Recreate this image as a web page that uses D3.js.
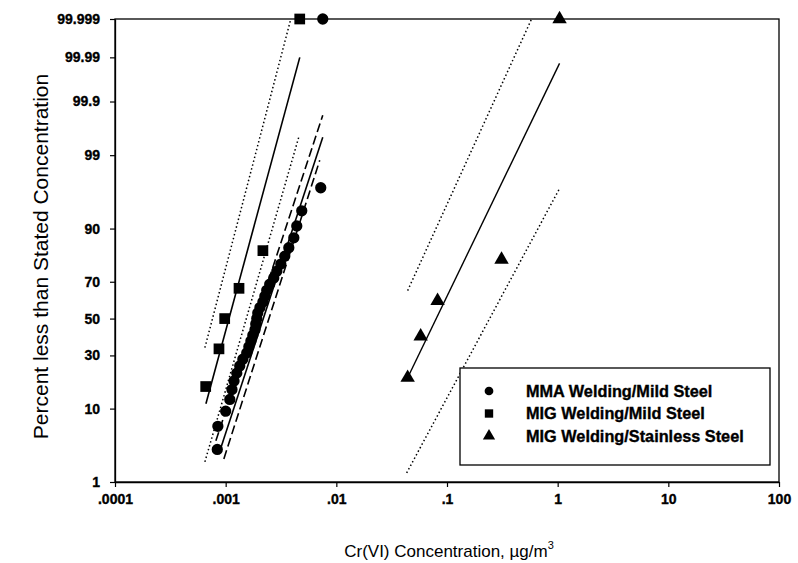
<!DOCTYPE html>
<html>
<head>
<meta charset="utf-8">
<script src="https://cdn.jsdelivr.net/npm/d3@7"></script>
<style>
  html, body { margin: 0; padding: 0; background: #fff; }
  svg { display: block; }
  text { font-family: "Liberation Sans", Arial, sans-serif; fill: #000; }
</style>
</head>
<body>
<svg id="chart" width="798" height="563"></svg>
<script>
// ---------- data ----------
const xTicks = [0.0001, 0.001, 0.01, 0.1, 1, 10, 100];
const xTickLabels = [".0001", ".001", ".01", ".1", "1", "10", "100"];
const yTicks = [1, 10, 30, 50, 70, 90, 99, 99.9, 99.99, 99.999];
const yTickLabels = ["1", "10", "30", "50", "70", "90", "99", "99.9", "99.99", "99.999"];

const seriesNames = ["MMA Welding/Mild Steel", "MIG Welding/Mild Steel", "MIG Welding/Stainless Steel"];

// MMA Welding / Mild Steel (circles)
const mmaConc = [0.00084, 0.00085, 0.00100, 0.00109, 0.00114, 0.00119, 0.00126, 0.00134,
                 0.00143, 0.00155, 0.00162, 0.00169, 0.00176, 0.00184, 0.00187, 0.00191,
                 0.00195, 0.00204, 0.00217, 0.00226, 0.00235, 0.00250, 0.00272, 0.00290,
                 0.00315, 0.00342, 0.00372, 0.00413, 0.00439, 0.00487, 0.00723, 0.00754];
const mmaPct = [3.125, 6.25, 9.375, 12.5, 15.625, 18.75, 21.875, 25,
                28.125, 31.25, 34.375, 37.5, 40.625, 43.75, 46.875, 50,
                53.125, 56.25, 59.375, 62.5, 65.625, 68.75, 71.875, 75,
                78.125, 81.25, 84.375, 87.5, 90.625, 93.75, 96.875, 99.999];

// MIG Welding / Mild Steel (squares)
const migMildConc = [0.00066, 0.00087, 0.00098, 0.00132, 0.00217, 0.00467];
const migMildPct = [16.67, 33.33, 50, 66.67, 83.33, 99.999];

// MIG Welding / Stainless Steel (triangles)
const migStainConc = [0.0441, 0.0578, 0.0822, 0.311, 1.04];
const migStainPct = [20, 40, 60, 80, 99.999];

// fitted lines and confidence bands (end points)
const mmaFit      = { conc: [0.000887, 0.00754], pct: [2.99, 99.509] };
const mmaUpper    = { conc: [0.000816, 0.00754], pct: [4.09, 99.811] };
const mmaLower    = { conc: [0.000963, 0.00708], pct: [2.29, 98.79] };
const migMildFit  = { conc: [0.000663, 0.004674], pct: [11.26, 99.990] };
const migMildUp   = { conc: [0.000649, 0.003877], pct: [33.95, 99.999] };
const migMildLow  = { conc: [0.000649, 0.004577], pct: [2.07, 99.51] };
const migStFit    = { conc: [0.0441, 1.04], pct: [20.0, 99.986] };
const migStUp     = { conc: [0.0441, 0.581], pct: [65.5, 99.999] };
const migStLow    = { conc: [0.0432, 1.04], pct: [1.40, 96.8] };

// ---------- helpers ----------
function probit(p) { // inverse standard normal CDF (Acklam)
  const a = [-3.969683028665376e+01, 2.209460984245205e+02, -2.759285104469687e+02,
             1.383577518672690e+02, -3.066479806614716e+01, 2.506628277459239e+00];
  const b = [-5.447609879822406e+01, 1.615858368580409e+02, -1.556989798598866e+02,
             6.680131188771972e+01, -1.328068155288572e+01];
  const c = [-7.784894002430293e-03, -3.223964580411365e-01, -2.400758277161838e+00,
             -2.549732539343734e+00, 4.374664141464968e+00, 2.938163982698783e+00];
  const d = [7.784695709041462e-03, 3.224671290700398e-01, 2.445134137142996e+00,
             3.754408661907416e+00];
  const pl = 0.02425, ph = 1 - pl;
  let q, r;
  if (p < pl) {
    q = Math.sqrt(-2 * Math.log(p));
    return (((((c[0]*q+c[1])*q+c[2])*q+c[3])*q+c[4])*q+c[5]) / ((((d[0]*q+d[1])*q+d[2])*q+d[3])*q+1);
  } else if (p <= ph) {
    q = p - 0.5; r = q * q;
    return (((((a[0]*r+a[1])*r+a[2])*r+a[3])*r+a[4])*r+a[5])*q / (((((b[0]*r+b[1])*r+b[2])*r+b[3])*r+b[4])*r+1);
  } else {
    q = Math.sqrt(-2 * Math.log(1 - p));
    return -(((((c[0]*q+c[1])*q+c[2])*q+c[3])*q+c[4])*q+c[5]) / ((((d[0]*q+d[1])*q+d[2])*q+d[3])*q+1);
  }
}

// ---------- layout ----------
const L = 115, R = 779, T = 19, B = 482;
const svg = d3.select("#chart");

const x = d3.scaleLog().domain([0.0001, 100]).range([L, R]);
const yz = d3.scaleLinear().domain([probit(0.01), probit(0.99999)]).range([B, T]);
const y = pct => yz(probit(pct / 100));

// frame
svg.append("rect").attr("x", L).attr("y", T).attr("width", R - L).attr("height", B - T)
  .attr("fill", "none").attr("stroke", "#000").attr("stroke-width", 1.3);

function heavy(sel, size) {
  sel.style("font-size", size + "px").style("font-weight", "bold")
    .style("font-family", "'Liberation Sans', Arial, sans-serif")
    .attr("stroke", "#000").attr("stroke-width", 0.35);
}

// x axis
const xAxis = d3.axisBottom(x).tickValues(xTicks).tickFormat((d, i) => xTickLabels[i])
  .tickSizeInner(5).tickSizeOuter(0).tickPadding(7);
const gx = svg.append("g").attr("transform", `translate(0,${B})`).call(xAxis);
gx.select(".domain").attr("stroke-width", 1.3);
gx.selectAll(".tick line").attr("stroke-width", 1.2);
heavy(gx.selectAll("text"), 14);

// y axis
const yAxis = d3.axisLeft(yz).tickValues(yTicks.map(p => probit(p / 100)))
  .tickFormat((d, i) => yTickLabels[i]).tickSizeInner(5).tickSizeOuter(0).tickPadding(10);
const gy = svg.append("g").attr("transform", `translate(${L},0)`).call(yAxis);
gy.select(".domain").attr("stroke-width", 1.3);
gy.selectAll(".tick line").attr("stroke-width", 1.2);
heavy(gy.selectAll("text"), 14);

// axis titles
const xt = svg.append("text").attr("x", 449).attr("y", 557).attr("text-anchor", "middle")
  .style("font-size", "17px");
xt.append("tspan").text("Cr(VI) Concentration, \u00B5g/m");
xt.append("tspan").attr("dy", -8).style("font-size", "11px").text("3");

svg.append("text").attr("transform", `translate(48,${(T + B) / 2 + 6}) rotate(-90)`)
  .attr("text-anchor", "middle").style("font-size", "21px")
  .text("Percent less than Stated Concentration");

// clip
svg.append("clipPath").attr("id", "clip").append("rect")
  .attr("x", L).attr("y", T - 1).attr("width", R - L).attr("height", B - T + 2);
const plot = svg.append("g").attr("clip-path", "url(#clip)");

// lines
const lineGen = d3.line().x(d => x(d[0])).y(d => y(d[1]));
function drawLine(obj, dash, w) {
  const pts = obj.conc.map((c, i) => [c, obj.pct[i]]);
  plot.append("path").attr("d", lineGen(pts)).attr("fill", "none").attr("stroke", "#000")
    .attr("stroke-width", w).attr("stroke-dasharray", dash);
}
drawLine(migMildFit, null, 1.6);
drawLine(migMildUp, "1.5,2.5", 1.5);
drawLine(migMildLow, "1.5,2.5", 1.5);
drawLine(mmaFit, null, 1.6);
drawLine(mmaUpper, "9,4", 1.6);
drawLine(mmaLower, "9,4", 1.6);
drawLine(migStFit, null, 1.4);
drawLine(migStUp, "1.5,2.5", 1.5);
drawLine(migStLow, "1.5,2.5", 1.5);

// markers
const sym = {
  circle: d3.symbol().type(d3.symbolCircle).size(100),
  square: d3.symbol().type(d3.symbolSquare).size(115),
  triangle: d3.symbol().type(d3.symbolTriangle).size(90)
};
function drawPoints(conc, pct, s) {
  svg.append("g").selectAll("path").data(conc.map((c, i) => [c, pct[i]])).join("path")
    .attr("transform", d => `translate(${x(d[0])},${y(d[1])})`)
    .attr("d", sym[s]).attr("fill", "#000");
}
drawPoints(mmaConc, mmaPct, "circle");
drawPoints(migMildConc, migMildPct, "square");
drawPoints(migStainConc, migStainPct, "triangle");

// legend
const lg = svg.append("g");
lg.append("rect").attr("x", 460).attr("y", 368).attr("width", 310).attr("height", 97)
  .attr("fill", "#fff").attr("stroke", "#000").attr("stroke-width", 1.3);
const legTypes = [d3.symbolCircle, d3.symbolSquare, d3.symbolTriangle];
const legSizes = [60, 70, 65];
seriesNames.forEach((name, i) => {
  const yy = 391 + i * 22.5;
  lg.append("path").attr("transform", `translate(489,${yy})`)
    .attr("d", d3.symbol().type(legTypes[i]).size(legSizes[i]))
    .attr("fill", "#000");
  const t = lg.append("text").attr("x", 526).attr("y", yy + 5.5).text(name);
  heavy(t, 16.3);
});
</script>
</body>
</html>
